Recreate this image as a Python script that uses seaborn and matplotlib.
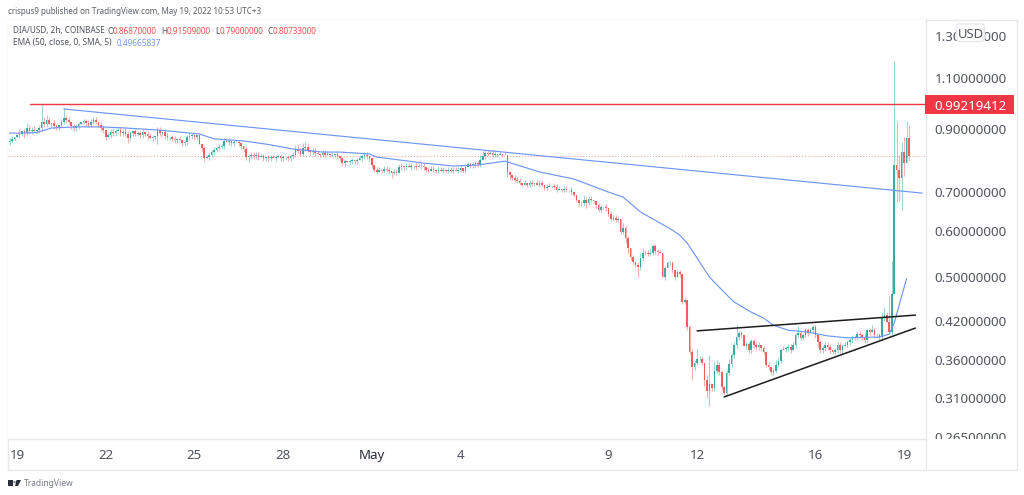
import matplotlib
matplotlib.use("Agg")
import numpy as np
import seaborn as sns
import matplotlib.pyplot as plt
from matplotlib.patches import Rectangle, FancyBboxPatch, Polygon, Circle
from matplotlib.lines import Line2D
from matplotlib.ticker import NullLocator
from matplotlib.transforms import Bbox

# closes of the 2h candles, first candle three bars before Apr 19
closes = [
    .857, .864, .870, .877, .881, .891, .884, .902, .891, .895, .891, .895,
    .902, .924, .916, .931, .916, .920, .909, .905, .913, .924, .938, .931,
    .924, .909, .902, .909, .916, .924, .927, .920, .913, .924, .931, .924,
    .913, .902, .895, .870, .877, .888, .884, .891, .895, .884, .888, .881,
    .867, .884, .891, .881, .884, .877, .888, .881, .874, .867, .870, .874,
    .895, .884, .888, .874, .870, .870, .864, .860, .864, .860, .850, .853,
    .870, .874, .877, .870, .877, .847, .833, .801, .804, .811, .820, .827,
    .833, .837, .840, .857, .853, .857, .850, .853, .853, .850, .840, .830,
    .804, .807, .811, .807, .811, .804, .807, .801, .804, .801, .804, .801,
    .804, .807, .801, .804, .804, .801, .807, .811, .827, .824, .814, .833,
    .837, .827, .820, .824, .817, .814, .811, .817, .811, .814, .811, .811,
    .814, .807, .801, .785, .791, .788, .791, .794, .791, .794, .801, .807,
    .811, .807, .801, .779, .764, .758, .764, .761, .767, .764, .761, .755,
    .758, .755, .773, .776, .773, .776, .773, .776, .776, .773, .776, .776,
    .773, .764, .761, .767, .764, .761, .764, .761, .764, .761, .764, .761,
    .764, .761, .764, .770, .761, .773, .782, .779, .782, .785, .782, .794,
    .807, .817, .814, .817, .811, .814, .811, .814, .811, .811, .758, .750,
    .741, .735, .732, .726, .721, .726, .721, .726, .724, .726, .721, .726,
    .721, .712, .715, .718, .718, .715, .706, .709, .706, .709, .706, .706,
    .700, .692, .679, .669, .669, .679, .671, .682, .679, .676, .664, .653,
    .661, .661, .656, .642, .630, .632, .627, .630, .598, .607, .583, .561,
    .541, .531, .525, .520, .539, .550, .550, .548, .550, .565, .554, .552,
    .550, .500, .518, .528, .528, .514, .500, .510, .506, .453, .456, .410,
    .372, .350, .356, .362, .362, .356, .332, .319, .328, .322, .345, .353,
    .343, .323, .316, .342, .354, .367, .382, .394, .400, .397, .380, .383,
    .374, .388, .382, .379, .382, .377, .372, .353, .350, .343, .345, .353,
    .359, .374, .376, .377, .379, .374, .382, .397, .400, .393, .397, .405,
    .400, .405, .410, .397, .386, .374, .377, .382, .379, .374, .372, .374,
    .382, .374, .380, .382, .386, .389, .394, .393, .399, .397, .393, .389,
    .405, .402, .405, .397, .397, .394, .425, .431, .418, .402, .467, .779,
    .764, .741, .820, .785, .868, .807,
]
first_open = .852

# wick lengths above / below the body, in percent of price
wick_up = [
    1, 1, 0, 1, 2, 0, 1, 2, 1, 1, 2, 0,
    1, 7, 2, 2, 1, 0, 1, 1, 0, 1, 4, 1,
    1, 0, 1, 1, 1, 0, 1, 1, 1, 1, 1, 1,
    0, 1, 1, 0, 1, 1, 1, 1, 1, 1, 1, 2,
    1, 1, 0, 1, 1, 1, 1, 0, 1, 1, 1, 0,
    1, 1, 0, 1, 1, 0, 1, 1, 0, 1, 0, 1,
    1, 1, 1, 1, 0, 0, 0, 1, 1, 1, 1, 1,
    1, 1, 1, 1, 1, 1, 0, 1, 1, 1, 0, 0,
    1, 1, 1, 1, 1, 1, 1, 1, 0, 1, 1, 1,
    1, 1, 1, 1, 0, 1, 1, 1, 2, 2, 1, 2,
    2, 1, 0, 1, 1, 1, 0, 1, 1, 1, 0, 1,
    0, 1, 0, 0, 1, 0, 1, 1, 0, 1, 1, 1,
    1, 1, 0, 0, 0, 1, 1, 0, 1, 1, 1, 0,
    1, 1, 1, 1, 0, 1, 1, 1, 0, 1, 1, 1,
    1, 0, 1, 1, 1, 0, 1, 1, 1, 0, 1, 1,
    1, 1, 1, 1, 0, 1, 1, 1, 1, 1, 1, 2,
    2, 1, 1, 1, 1, 1, 0, 1, 0, 1, 0, 0,
    0, 1, 1, 1, 0, 1, 0, 1, 1, 0, 1, 1,
    1, 0, 1, 1, 0, 1, 1, 1, 0, 1, 1, 0,
    1, 0, 0, 0, 1, 2, 1, 1, 1, 0, 0, 1,
    1, 0, 1, 0, 1, 1, 1, 1, 0, 2, 1, 1,
    0, 1, 0, 1, 2, 2, 1, 1, 2, 1, 1, 1,
    1, 0, 1, 1, 1, 1, 0, 1, 1, 0, 1, 0,
    1, 1, 1, 4, 1, 1, 0, 2, 12, 0, 4, 2,
    1, 1, 1, 1, 2, 1, 1, 5, 1, 1, 0, 1,
    1, 1, 1, 1, 1, 0, 1, 0, 1, 0, 1, 2,
    1, 1, 1, 1, 1, 1, 1, 1, 3, 1, 1, 1,
    1, 1, 1, 1, 0, 1, 1, 1, 1, 1, 0, 1,
    1, 1, 1, 1, 1, 1, 1, 1, 1, 1, 1, 2,
    1, 1, 2, 1, 1, 1, 2, 3, 1, 11, 14, 51,
    19, 6, 4, 6, 7, 5,
]
wick_dn = [
    1, 1, 1, 0, 1, 1, 2, 1, 1, 1, 0, 1,
    1, 1, 1, 1, 0, 1, 1, 1, 1, 1, 1, 1,
    1, 1, 1, 1, 1, 0, 1, 1, 1, 1, 1, 1,
    1, 1, 1, 1, 0, 1, 1, 1, 0, 1, 1, 1,
    2, 1, 1, 1, 1, 1, 1, 1, 1, 0, 1, 1,
    3, 1, 1, 1, 1, 1, 1, 1, 1, 0, 1, 1,
    1, 1, 1, 1, 1, 0, 1, 1, 0, 1, 1, 1,
    1, 1, 1, 1, 0, 1, 1, 1, 0, 1, 1, 1,
    1, 2, 1, 1, 1, 1, 0, 1, 1, 1, 1, 0,
    1, 0, 1, 1, 1, 1, 1, 1, 1, 1, 1, 1,
    1, 1, 1, 1, 1, 0, 1, 1, 1, 0, 1, 1,
    1, 1, 1, 1, 1, 0, 1, 1, 1, 1, 0, 1,
    1, 1, 1, 1, 1, 1, 0, 1, 1, 1, 1, 2,
    1, 1, 0, 1, 1, 1, 0, 1, 1, 1, 0, 1,
    1, 1, 1, 0, 1, 1, 1, 0, 1, 1, 1, 1,
    1, 0, 1, 1, 1, 1, 0, 1, 1, 1, 1, 1,
    0, 1, 1, 0, 1, 1, 1, 0, 1, 0, 2, 2,
    1, 1, 1, 1, 1, 0, 1, 1, 1, 1, 0, 1,
    1, 1, 1, 0, 1, 1, 1, 0, 1, 1, 1, 1,
    1, 1, 1, 1, 1, 1, 2, 1, 1, 1, 1, 1,
    1, 1, 1, 1, 1, 1, 1, 1, 1, 1, 2, 2,
    1, 1, 1, 4, 1, 1, 1, 1, 1, 1, 1, 1,
    0, 0, 1, 0, 1, 1, 1, 0, 1, 1, 1, 1,
    1, 5, 1, 1, 1, 1, 2, 3, 6, 1, 1, 1,
    1, 1, 1, 1, 1, 1, 1, 1, 1, 1, 0, 1,
    1, 1, 1, 1, 1, 1, 1, 1, 1, 1, 1, 1,
    1, 1, 0, 1, 1, 1, 0, 1, 1, 1, 1, 1,
    1, 0, 1, 1, 2, 1, 1, 1, 1, 1, 1, 1,
    1, 1, 1, 0, 1, 1, 1, 1, 1, 1, 1, 1,
    1, 1, 0, 1, 1, 1, 1, 1, 0, 0, 1, 0,
    12, 9, 12, 5, 0, 2,
]

# EMA(50) line, read as vertices along the curve
ema_t = [-3, 3, 8, 14, 24, 34, 44, 57, 74, 80, 92, 102, 112, 124, 131, 143, 146, 156,
         165, 177, 187, 198, 212, 226, 240, 246, 253, 261, 266, 269, 272, 276, 281,
         288, 291, 298, 303, 307, 313, 321, 329, 337, 345, 350, 354, 356, 361]
ema_v = [.884, .884, .886, .902, .906, .906, .902, .895, .881, .864, .857, .845, .830,
         .820, .820, .814, .804, .794, .785, .776, .779, .791, .758, .737, .700, .686,
         .647, .619, .602, .590, .572, .539, .500, .466, .453, .435, .425, .413, .405,
         .402, .396, .393, .394, .394, .399, .417, .4967]

# drawn trend lines
resist_t = [5.3, 368.7]
resist_v = [.99219412, .99219412]
fall_t = [19, 367.4]
fall_v = [.9725, .697]
wedge_top_t = [276, 364.6]
wedge_top_v = [.404, .430]
wedge_low_t = [287, 364.6]
wedge_low_v = [.311, .4085]
last_close = .80733

day_ticks = [0, 36, 72, 108, 144, 180, 240, 276, 324, 360]
day_labels = ["19", "22", "25", "28", "May", "4", "9", "12", "16", "19"]
price_ticks = [1.3, 1.1, .9, .7, .6, .5, .42, .36, .31, .265]
price_labels = ["1.30000000", "1.10000000", "0.90000000", "0.70000000", "0.60000000",
                "0.50000000", "0.42000000", "0.36000000", "0.31000000", "0.26500000"]

UP = "#26a69a"
DOWN = "#ef5350"
EMA_BLUE = "#7096f5"
LINE_RED = "#f23645"
GRID = "#e6e8ec"
TEXT = "#50535e"

sns.set_theme(style="white")
plt.rcParams["font.family"] = ["Noto Sans", "DejaVu Sans"]

W, H = 1024, 495
fig = plt.figure(figsize=(W / 100, H / 100), dpi=100)
ax = fig.add_axes([8 / W, 1 - 439 / H, (925.5 - 8) / W, (439 - 19.5) / H])
ax.set_yscale("log")

t = np.arange(len(closes)) - 3
c = np.array(closes)
o = np.concatenate([[first_open], c[:-1]])
top = np.maximum(o, c)
bot = np.minimum(o, c)
hi = top * (1 + np.array(wick_up) / 100)
lo = bot * (1 - np.array(wick_dn) / 100)
colors = [UP if cc >= oo else DOWN for oo, cc in zip(o, c)]

ax.vlines(t, lo, hi, colors=colors, linewidth=0.8, alpha=0.45, zorder=2)
ax.bar(t, top - bot, bottom=bot, width=0.65, color=colors, linewidth=0, alpha=0.9, zorder=3)

ax.axhline(last_close, color=DOWN, linestyle=(0, (1, 2)), linewidth=0.7, alpha=0.6, zorder=1)
sns.lineplot(x=ema_t, y=ema_v, ax=ax, color=EMA_BLUE, linewidth=0.85, estimator=None, sort=False, zorder=4)
sns.lineplot(x=fall_t, y=fall_v, ax=ax, color=EMA_BLUE, linewidth=0.85, estimator=None, sort=False, zorder=4)
sns.lineplot(x=resist_t, y=resist_v, ax=ax, color=LINE_RED, linewidth=1, estimator=None, sort=False, zorder=5)
sns.lineplot(x=wedge_top_t, y=wedge_top_v, ax=ax, color="#1c1c1c", linewidth=1.1, estimator=None, sort=False, zorder=5)
sns.lineplot(x=wedge_low_t, y=wedge_low_v, ax=ax, color="#1c1c1c", linewidth=1.1, estimator=None, sort=False, zorder=5)

ax.set_xlim(-3.65, 368.7)
ax.set_ylim(.2633, 1.386)
ax.set_xlabel("")
ax.set_ylabel("")

ax.set_xticks(day_ticks)
ax.set_xticklabels(day_labels, fontsize=9.6, color=TEXT)
ax.tick_params(axis="x", length=0, pad=7)
ax.get_xticklabels()[4].set_fontweight("bold")
ax.get_xticklabels()[4].set_color("#2a2e39")

ax.yaxis.tick_right()
ax.set_yticks(price_ticks)
ax.set_yticklabels(price_labels, fontsize=9.6, color=TEXT, ha="right")
ax.yaxis.set_minor_locator(NullLocator())
ax.tick_params(axis="y", length=0, pad=58.5)
# the lowest price label gets cut by the time axis, like in the original
for lab in ax.get_yticklabels():
    lab.set_clip_on(True)
    lab.set_clip_box(Bbox([[926, H - 439], [1016, H - 19.5]]))

for side in ["left", "top"]:
    ax.spines[side].set_visible(False)
for side in ["right", "bottom"]:
    ax.spines[side].set_color(GRID)
    ax.spines[side].set_linewidth(1)


def fx(x):
    return x / W


def fy(y):
    return 1 - y / H


# chart frame around the plot and the axes strips
fig.add_artist(Rectangle((fx(7.5), fy(470)), (1016.5 - 7.5) / W, (470 - 19.5) / H, transform=fig.transFigure,
                         fill=False, edgecolor=GRID, linewidth=1, zorder=0))
fig.add_artist(Line2D([fx(925.5), fx(925.5)], [fy(439), fy(470)], color=GRID, linewidth=1))

# current level badge
fig.add_artist(Rectangle((fx(925), fy(114)), 89 / W, 19 / H, transform=fig.transFigure,
                         facecolor=LINE_RED, edgecolor="none", zorder=6))
fig.text(fx(1006.5), fy(104.5), "0.99219412", color="white", fontsize=9.6, fontweight="medium",
         ha="right", va="center_baseline", zorder=7)

# currency button sits on top of the 1.3 label
fig.add_artist(FancyBboxPatch((fx(956.5), fy(41.5)), 28 / W, 17.5 / H, transform=fig.transFigure,
                              boxstyle="round,pad=0,rounding_size=0.003", mutation_aspect=2,
                              facecolor="white", edgecolor=GRID, linewidth=1, zorder=6))
fig.text(fx(970.5), fy(32.5), "USD", color=TEXT, fontsize=9.4, ha="center", va="center_baseline", zorder=7)

# header texts
HEAD = 5.9
fig.text(fx(7.5), fy(11), "crispus9 published on TradingView.com, May 19, 2022 10:53 UTC+3",
         color="#5d606b", fontsize=5.8, va="center_baseline")
fig.text(fx(13), fy(30), "DIA/USD, 2h, COINBASE", color=TEXT, fontsize=HEAD, va="center_baseline")
for x_l, lab, x_v, val in [(107.5, "O", 113, "0.86870000"), (161, "H", 167, "0.91509000"),
                           (215, "L", 220, "0.79000000"), (267.5, "C", 273, "0.80733000")]:
    fig.text(fx(x_l), fy(30), lab, color=TEXT, fontsize=HEAD, va="center_baseline")
    fig.text(fx(x_v), fy(30), val, color=DOWN, fontsize=HEAD, va="center_baseline")
fig.text(fx(13), fy(42), "EMA (50, close, 0, SMA, 5)", color=TEXT, fontsize=6, va="center_baseline")
fig.text(fx(117), fy(42), "0.49665837", color=EMA_BLUE, fontsize=HEAD, va="center_baseline")

# footer logo and name
fig.add_artist(Rectangle((fx(8), fy(486)), 5 / W, 6 / H, transform=fig.transFigure, facecolor="#2a2e39", edgecolor="none"))
fig.add_artist(Circle((fx(14.5), fy(482)), 0.0012, transform=fig.transFigure, facecolor="#2a2e39", edgecolor="none"))
fig.add_artist(Polygon([[fx(16.5), fy(480)], [fx(21), fy(480)], [fx(18), fy(486)], [fx(15), fy(486)]],
                       transform=fig.transFigure, facecolor="#2a2e39", edgecolor="none"))
fig.text(fx(24), fy(483), "TradingView", color="#787b86", fontsize=6.1, va="center_baseline")

fig.savefig("out.png", dpi=100)
plt.close(fig)
